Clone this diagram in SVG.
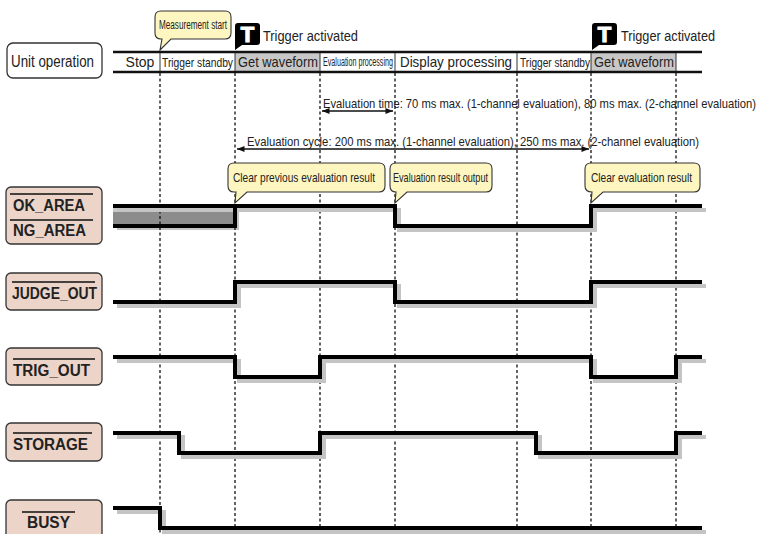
<svg xmlns="http://www.w3.org/2000/svg" width="757" height="534" viewBox="0 0 757 534">
<style>
  .t{font-family:"Liberation Sans",Arial,sans-serif;fill:#222}
  .lbl{fill:#ecd4c8;stroke:#333;stroke-width:1.3}
  .lbltxt{font-family:"Liberation Sans",Arial,sans-serif;font-weight:bold;font-size:16px;fill:#222}
  .ov{stroke:#111;stroke-width:1.6}
  .wave{fill:none;stroke:#000;stroke-width:4;stroke-linejoin:miter;stroke-linecap:butt}
  .shadow{fill:none;stroke:#c4c4c4;stroke-width:4;stroke-linejoin:miter}
  .dash{stroke:#111;stroke-width:1.3;stroke-dasharray:3 2.5}
  .callout{fill:#fdf6c0;stroke:#333;stroke-width:1.1}
  .sep{stroke:#333;stroke-width:1}
  .arr{stroke:#111;stroke-width:1.3;fill:none}
</style>
<defs>
  <marker id="ah" viewBox="0 0 10 8" refX="10" refY="4" markerWidth="8" markerHeight="6" orient="auto-start-reverse" markerUnits="userSpaceOnUse">
    <path d="M0,0 L10,4 L0,8 Z" fill="#111"/>
  </marker>
</defs>
<rect width="757" height="534" fill="#fff"/>

<!-- Unit operation node -->
<g id="node-unit-operation">
  <rect x="7" y="43" width="95" height="35" rx="6" fill="#fff" stroke="#333" stroke-width="1.3"/>
  <text class="t" x="11" y="67" font-size="16" textLength="83" lengthAdjust="spacingAndGlyphs">Unit operation</text>
</g>

<!-- Timeline -->
<g id="timeline">
  <rect x="235" y="53" width="85" height="18" fill="#c8c8c8"/>
  <rect x="591" y="53" width="85" height="18" fill="#c8c8c8"/>
  <line x1="113" y1="52" x2="702" y2="52" stroke="#111" stroke-width="2.6"/>
  <line x1="113" y1="72" x2="702" y2="72" stroke="#111" stroke-width="2.6"/>
  <line class="sep" x1="160" y1="53" x2="160" y2="71"/>
  <line class="sep" x1="235" y1="53" x2="235" y2="71"/>
  <line class="sep" x1="320" y1="53" x2="320" y2="71"/>
  <line class="sep" x1="395" y1="53" x2="395" y2="71"/>
  <line class="sep" x1="517" y1="53" x2="517" y2="71"/>
  <line class="sep" x1="591" y1="53" x2="591" y2="71"/>
  <line class="sep" x1="676" y1="53" x2="676" y2="71"/>
  <text class="t" x="140" y="67" font-size="14" text-anchor="middle">Stop</text>
  <text class="t" x="162" y="67" font-size="13" textLength="71" lengthAdjust="spacingAndGlyphs">Trigger standby</text>
  <text class="t" x="238" y="67" font-size="15" textLength="80" lengthAdjust="spacingAndGlyphs">Get waveform</text>
  <text class="t" x="323" y="66" font-size="12" textLength="70" lengthAdjust="spacingAndGlyphs">Evaluation processing</text>
  <text class="t" x="400" y="67" font-size="15" textLength="112" lengthAdjust="spacingAndGlyphs">Display processing</text>
  <text class="t" x="520" y="67" font-size="13" textLength="70" lengthAdjust="spacingAndGlyphs">Trigger standby</text>
  <text class="t" x="594" y="67" font-size="15" textLength="80" lengthAdjust="spacingAndGlyphs">Get waveform</text>
</g>

<!-- OK_AREA gray fill -->
<g id="ok-area-fill">
  <rect x="117" y="210" width="122" height="20" fill="#c4c4c4"/>
  <rect x="113" y="206" width="122" height="20" fill="#8c8c8c"/>
  <rect x="113" y="208" width="120" height="4" fill="#c8c8c8"/>
</g>

<!-- Connectors: dashed time markers and dimension arrows -->
<g id="connectors">
  <line class="dash" x1="160" y1="73" x2="160" y2="534"/>
  <line class="dash" x1="235" y1="73" x2="235" y2="534"/>
  <line class="dash" x1="320" y1="73" x2="320" y2="534"/>
  <line class="dash" x1="395" y1="73" x2="395" y2="534"/>
  <line class="dash" x1="517" y1="73" x2="517" y2="534"/>
  <line class="dash" x1="591" y1="73" x2="591" y2="534"/>
  <line class="dash" x1="676" y1="73" x2="676" y2="534"/>
  <line class="arr" x1="322" y1="111" x2="393" y2="111" marker-start="url(#ah)" marker-end="url(#ah)"/>
  <line class="arr" x1="237" y1="149" x2="589" y2="149" marker-start="url(#ah)" marker-end="url(#ah)"/>
  <text class="t" x="323" y="108" font-size="13" textLength="433" lengthAdjust="spacingAndGlyphs">Evaluation time: 70 ms max. (1-channel evaluation), 80 ms max. (2-channel evaluation)</text>
  <text class="t" x="247" y="146" font-size="13" textLength="452" lengthAdjust="spacingAndGlyphs">Evaluation cycle: 200 ms max. (1-channel evaluation), 250 ms max. (2-channel evaluation)</text>
</g>

<!-- Signal waveforms -->
<g id="wave-ok-ng">
  <path class="shadow" transform="translate(4,4)" d="M113,206 H395 V226 H591 V206 H702"/>
  <path class="wave" d="M113,206 H395 V226 H591 V206 H702"/>
  <path class="wave" d="M113,226 H235 V206"/>
</g>
<g id="wave-judge-out">
  <path class="shadow" transform="translate(4,4)" d="M113,302 H235 V282 H395 V302 H591 V282 H702"/>
  <path class="wave" d="M113,302 H235 V282 H395 V302 H591 V282 H702"/>
</g>
<g id="wave-trig-out">
  <path class="shadow" transform="translate(4,4)" d="M113,357 H235 V377 H320 V357 H591 V377 H676 V357 H702"/>
  <path class="wave" d="M113,357 H235 V377 H320 V357 H591 V377 H676 V357 H702"/>
</g>
<g id="wave-storage">
  <path class="shadow" transform="translate(4,4)" d="M113,433 H179 V453 H320 V433 H536 V453 H676 V433 H702"/>
  <path class="wave" d="M113,433 H179 V453 H320 V433 H536 V453 H676 V433 H702"/>
</g>
<g id="wave-busy">
  <path class="shadow" transform="translate(4,4)" d="M113,508 H160 V528 H702"/>
  <path class="wave" d="M113,508 H160 V528 H702"/>
</g>

<!-- Signal labels -->
<g id="node-ok-ng-area">
  <rect class="lbl" x="6" y="187" width="96" height="57" rx="5"/>
  <line class="ov" x1="10" y1="194" x2="93" y2="194"/>
  <text class="lbltxt" x="13" y="211" textLength="72" lengthAdjust="spacingAndGlyphs">OK_AREA</text>
  <line class="ov" x1="10" y1="220" x2="93" y2="220"/>
  <text class="lbltxt" x="13" y="236" textLength="73" lengthAdjust="spacingAndGlyphs">NG_AREA</text>
</g>
<g id="node-judge-out">
  <rect class="lbl" x="6" y="273" width="96" height="37" rx="5"/>
  <line class="ov" x1="12" y1="282" x2="95" y2="282"/>
  <text class="lbltxt" x="12" y="299" textLength="85" lengthAdjust="spacingAndGlyphs">JUDGE_OUT</text>
</g>
<g id="node-trig-out">
  <rect class="lbl" x="6" y="348" width="96" height="37" rx="5"/>
  <line class="ov" x1="13" y1="359" x2="95" y2="359"/>
  <text class="lbltxt" x="13" y="376" textLength="77" lengthAdjust="spacingAndGlyphs">TRIG_OUT</text>
</g>
<g id="node-storage">
  <rect class="lbl" x="6" y="423" width="96" height="38" rx="5"/>
  <line class="ov" x1="13" y1="433" x2="92" y2="433"/>
  <text class="lbltxt" x="13" y="450" textLength="75" lengthAdjust="spacingAndGlyphs">STORAGE</text>
</g>
<g id="node-busy">
  <rect class="lbl" x="6" y="500" width="96" height="42" rx="5"/>
  <line class="ov" x1="22" y1="512" x2="75" y2="512"/>
  <text class="lbltxt" x="27" y="528" textLength="43" lengthAdjust="spacingAndGlyphs">BUSY</text>
</g>

<!-- Callouts -->
<g id="callout-measurement-start">
  <path class="callout" d="M161,11 H225 Q231,11 231,17 V33 Q231,39 225,39 H171 L160,50 L162,39 H161 Q155,39 155,33 V17 Q155,11 161,11 Z"/>
  <text class="t" x="159" y="29" font-size="12" textLength="68" lengthAdjust="spacingAndGlyphs">Measurement start</text>
</g>
<g id="callout-clear-previous">
  <path class="callout" d="M234,163 H379 Q385,163 385,169 V186 Q385,192 379,192 H247 L235,203 L236,192 H234 Q228,192 228,186 V169 Q228,163 234,163 Z"/>
  <text class="t" x="233" y="182" font-size="13" textLength="142" lengthAdjust="spacingAndGlyphs">Clear previous evaluation result</text>
</g>
<g id="callout-result-output">
  <path class="callout" d="M396,163 H486 Q492,163 492,169 V186 Q492,192 486,192 H407 L395,203 L396,192 Q390,192 390,186 V169 Q390,163 396,163 Z"/>
  <text class="t" x="393" y="182" font-size="13" textLength="95" lengthAdjust="spacingAndGlyphs">Evaluation result output</text>
</g>
<g id="callout-clear-result">
  <path class="callout" d="M591,163 H694 Q700,163 700,169 V186 Q700,192 694,192 H603 L591,203 L592,192 Q585,192 585,186 V169 Q585,163 591,163 Z"/>
  <text class="t" x="591" y="182" font-size="13" textLength="101" lengthAdjust="spacingAndGlyphs">Clear evaluation result</text>
</g>

<!-- Trigger icons -->
<g id="trigger-1">
  <path d="M235,50 V26 Q235,23 238,23 H257 Q260,23 260,26 V42 Q260,45 257,45 H242 Z" fill="#000"/>
  <text x="247.5" y="42" font-family="'Liberation Sans',Arial,sans-serif" font-weight="bold" font-size="22" fill="#fff" stroke="#fff" stroke-width="1.2" text-anchor="middle">T</text>
  <text class="t" x="263" y="41" font-size="14" textLength="95" lengthAdjust="spacingAndGlyphs">Trigger activated</text>
</g>
<g id="trigger-2">
  <path d="M592,50 V26 Q592,23 595,23 H614 Q617,23 617,26 V42 Q617,45 614,45 H599 Z" fill="#000"/>
  <text x="604.5" y="42" font-family="'Liberation Sans',Arial,sans-serif" font-weight="bold" font-size="22" fill="#fff" stroke="#fff" stroke-width="1.2" text-anchor="middle">T</text>
  <text class="t" x="621" y="41" font-size="14" textLength="94" lengthAdjust="spacingAndGlyphs">Trigger activated</text>
</g>
</svg>
